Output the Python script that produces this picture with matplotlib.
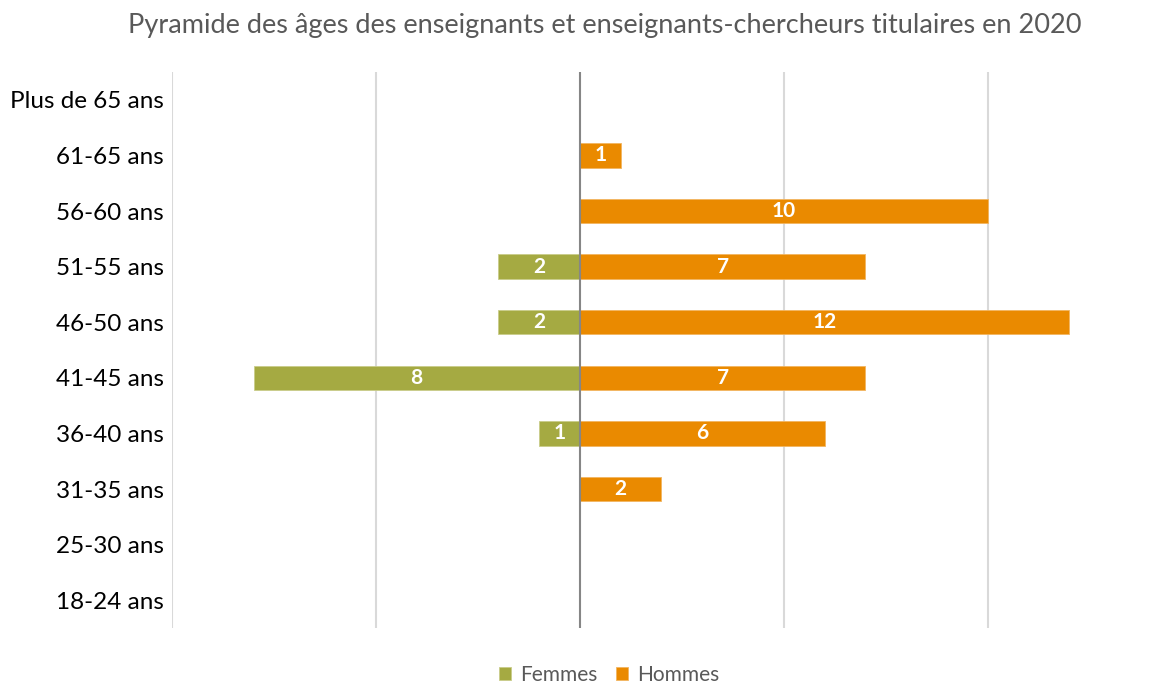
import matplotlib
matplotlib.use("Agg")
import matplotlib.pyplot as plt
import numpy as np

# Age groups, bottom to top
categories = ["18-24 ans", "25-30 ans", "31-35 ans", "36-40 ans", "41-45 ans",
              "46-50 ans", "51-55 ans", "56-60 ans", "61-65 ans", "Plus de 65 ans"]
femmes = [0, 0, 0, 1, 8, 2, 2, 0, 0, 0]
hommes = [0, 0, 2, 6, 7, 12, 7, 10, 1, 0]
grid_ticks = [-10, -5, 0, 5, 10]

title = "Pyramide des âges des enseignants et enseignants-chercheurs titulaires en 2020"
col_f = "#A5AA42"
col_h = "#EA8A00"

plt.rcParams["font.family"] = ["Lato", "DejaVu Sans"]

fig = plt.figure(figsize=(11.73, 6.86), dpi=100)
ax = fig.add_axes([172 / 1173, 58 / 686, 1000 / 1173, 556 / 686])

y = np.arange(len(categories))
h = 0.44
neg_f = [-v for v in femmes]
bars_f = ax.barh(y, neg_f, height=h, color=col_f, edgecolor="#C9CC8A",
                 linewidth=0.6, zorder=2, label="Femmes")
bars_h = ax.barh(y, hommes, height=h, color=col_h, edgecolor="#F2B560",
                 linewidth=0.6, zorder=2, label="Hommes")

for yi, v in zip(y, femmes):
    if v:
        ax.text(-v / 2, yi, str(v), ha="center", va="center", color="white",
                fontsize=15, fontweight="bold", zorder=4)
for yi, v in zip(y, hommes):
    if v:
        ax.text(v / 2, yi, str(v), ha="center", va="center", color="white",
                fontsize=15, fontweight="bold", zorder=4)

ax.set_xlim(-10, 14.52)
ax.set_ylim(-0.5, len(categories) - 0.5)

for t in grid_ticks:
    if t == 0:
        ax.axvline(t, color="#868686", linewidth=1.5, zorder=3)
    else:
        ax.axvline(t, color="#D9D9D9", linewidth=1.5, zorder=1)

ax.set_yticks(y)
ax.set_yticklabels(categories, fontsize=17.5, color="#000000")
ax.set_xticks([])
ax.tick_params(axis="y", length=0, pad=6)
for s in ax.spines.values():
    s.set_visible(False)

fig.text(605 / 1173, 1 - 25 / 686, title, ha="center", va="center",
         fontsize=19.5, color="#595959")

fig.legend(handles=[bars_f, bars_h], labels=["Femmes", "Hommes"],
           loc="center", bbox_to_anchor=(609 / 1173, 1 - 675 / 686), ncol=2,
           frameon=False, fontsize=15, handlelength=0.6, handleheight=0.6,
           handletextpad=0.4, columnspacing=0.9, labelcolor="#595959")

fig.savefig("out.png", dpi=100)
